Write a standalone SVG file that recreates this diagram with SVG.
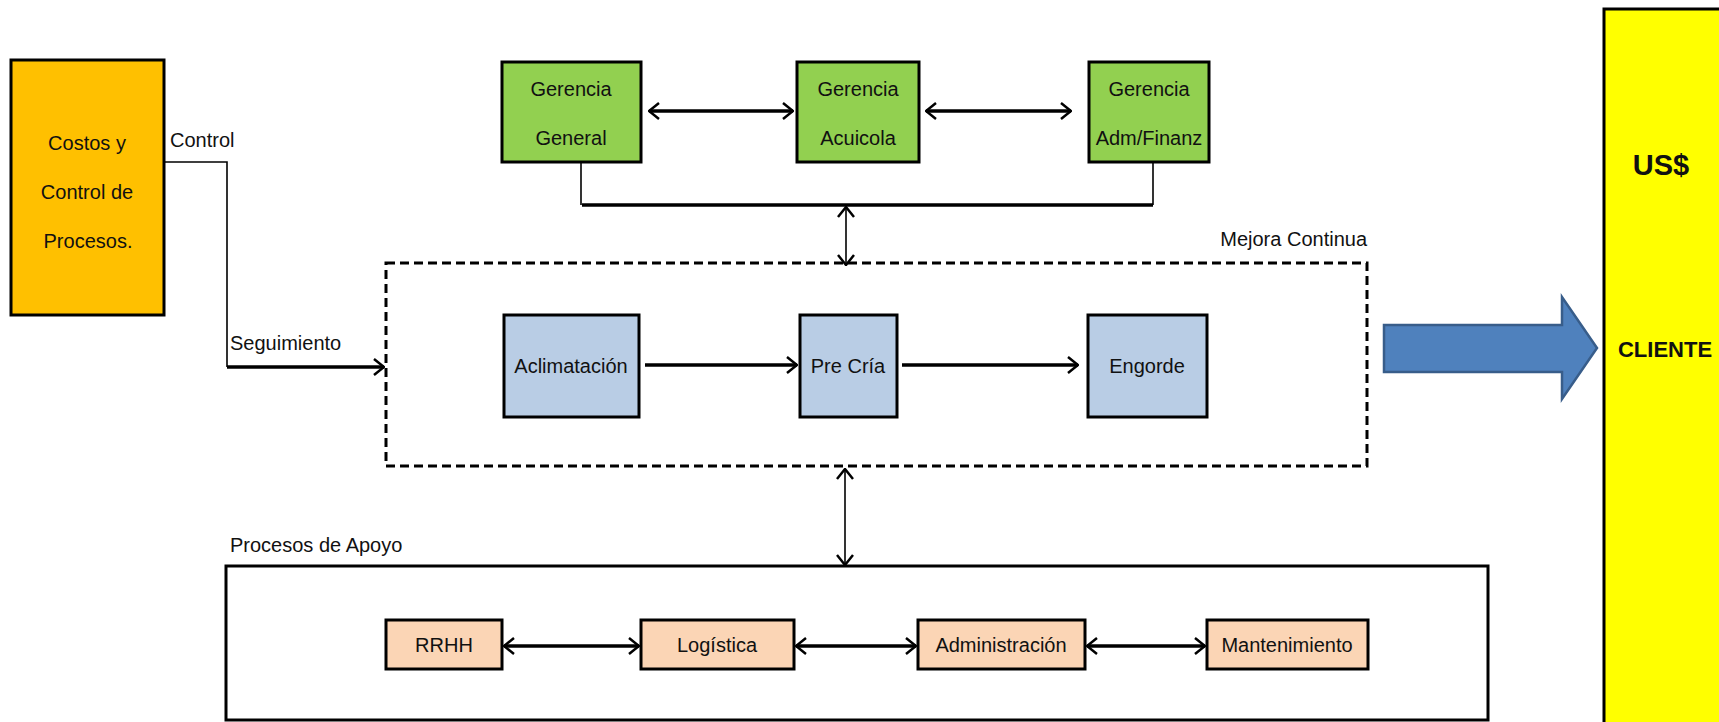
<svg xmlns="http://www.w3.org/2000/svg" width="1719" height="722" viewBox="0 0 1719 722">
<style>
text{font-family:"Liberation Sans",Arial,sans-serif;fill:#111;}
.lbl{font-size:20px;}
.nt{font-size:20px;text-anchor:middle;}
.box{stroke:#000;stroke-width:3;}
.thick{stroke:#000;stroke-width:3.5;fill:none;}
.thin{stroke:#000;stroke-width:1.6;fill:none;}
</style>
<defs>
<marker id="ah" viewBox="0 0 12 18" refX="11" refY="9" markerWidth="12" markerHeight="18" orient="auto-start-reverse" markerUnits="userSpaceOnUse">
<path d="M1,1 L11,9 L1,17" fill="none" stroke="#000" stroke-width="2.5"/>
</marker>
</defs>
<rect width="1719" height="722" fill="#fff"/>

<g id="costos">
<rect class="box" x="11" y="60" width="153" height="255" fill="#FFC000"/>
<text class="nt" x="87" y="150">Costos y</text>
<text class="nt" x="87" y="199">Control de</text>
<text class="nt" x="88" y="248">Procesos.</text>
</g>

<g id="gerencia-general">
<rect class="box" x="502" y="62" width="139" height="100" fill="#92D050"/>
<text class="nt" x="571" y="96">Gerencia</text>
<text class="nt" x="571" y="145">General</text>
</g>
<g id="gerencia-acuicola">
<rect class="box" x="797" y="62" width="122" height="100" fill="#92D050"/>
<text class="nt" x="858" y="96">Gerencia</text>
<text class="nt" x="858" y="145">Acuicola</text>
</g>
<g id="gerencia-adm">
<rect class="box" x="1089" y="62" width="120" height="100" fill="#92D050"/>
<text class="nt" x="1149" y="96">Gerencia</text>
<text class="nt" x="1149" y="145">Adm/Finanz</text>
</g>

<g id="mejora-continua">
<rect x="386" y="263" width="981" height="203" fill="none" stroke="#000" stroke-width="3" stroke-dasharray="9 5"/>
<text class="lbl" x="1367" y="246" text-anchor="end">Mejora  Continua</text>
</g>

<g id="aclimatacion">
<rect class="box" x="504" y="315" width="135" height="102" fill="#B9CDE5"/>
<text class="nt" x="571" y="373">Aclimatación</text>
</g>
<g id="precria">
<rect class="box" x="800" y="315" width="97" height="102" fill="#B9CDE5"/>
<text class="nt" x="848" y="373">Pre Cría</text>
</g>
<g id="engorde">
<rect class="box" x="1088" y="315" width="119" height="102" fill="#B9CDE5"/>
<text class="nt" x="1147" y="373">Engorde</text>
</g>

<g id="procesos-apoyo">
<rect x="226" y="566" width="1262" height="154" fill="none" stroke="#000" stroke-width="3"/>
<text class="lbl" x="230" y="552">Procesos de Apoyo</text>
</g>

<g id="rrhh">
<rect class="box" x="386" y="620" width="116" height="49" fill="#FBD5B5"/>
<text class="nt" x="444" y="652">RRHH</text>
</g>
<g id="logistica">
<rect class="box" x="641" y="620" width="153" height="49" fill="#FBD5B5"/>
<text class="nt" x="717" y="652">Logística</text>
</g>
<g id="administracion">
<rect class="box" x="918" y="620" width="167" height="49" fill="#FBD5B5"/>
<text class="nt" x="1001" y="652">Administración</text>
</g>
<g id="mantenimiento">
<rect class="box" x="1207" y="620" width="161" height="49" fill="#FBD5B5"/>
<text class="nt" x="1287" y="652">Mantenimiento</text>
</g>

<g id="cliente">
<rect x="1604" y="9" width="140" height="720" fill="#FFFF00" stroke="#000" stroke-width="3"/>
<text x="1661" y="175" text-anchor="middle" font-size="29" font-weight="bold">US$</text>
<text x="1665" y="357" text-anchor="middle" font-size="22" font-weight="bold">CLIENTE</text>
</g>

<g id="connectors">
<!-- control / seguimiento -->
<polyline class="thin" points="164,162 227,162 227,367"/>
<line class="thick" x1="227" y1="367" x2="384" y2="367" marker-end="url(#ah)"/>
<text class="lbl" x="170" y="147">Control</text>
<text class="lbl" x="230" y="350">Seguimiento</text>

<!-- gerencias -->
<line class="thick" x1="649" y1="111" x2="793" y2="111" marker-start="url(#ah)" marker-end="url(#ah)"/>
<line class="thick" x1="926" y1="111" x2="1071" y2="111" marker-start="url(#ah)" marker-end="url(#ah)"/>
<polyline class="thin" points="581,162 581,205"/>
<polyline class="thin" points="1153,162 1153,205"/>
<line class="thick" x1="582" y1="205" x2="1153" y2="205"/>
<line class="thin" x1="846" y1="207" x2="846" y2="265" marker-start="url(#ah)" marker-end="url(#ah)"/>

<!-- core -->
<line class="thick" x1="645" y1="365" x2="797" y2="365" marker-end="url(#ah)"/>
<line class="thick" x1="902" y1="365" x2="1078" y2="365" marker-end="url(#ah)"/>

<!-- to support -->
<line class="thin" x1="845" y1="469" x2="845" y2="565" marker-start="url(#ah)" marker-end="url(#ah)"/>

<!-- support -->
<line class="thick" x1="504" y1="646" x2="639" y2="646" marker-start="url(#ah)" marker-end="url(#ah)"/>
<line class="thick" x1="796" y1="646" x2="916" y2="646" marker-start="url(#ah)" marker-end="url(#ah)"/>
<line class="thick" x1="1087" y1="646" x2="1205" y2="646" marker-start="url(#ah)" marker-end="url(#ah)"/>

<!-- to client -->
<path d="M1384,325 L1562,325 L1562,297 L1597,348 L1562,399 L1562,372 L1384,372 Z" fill="#4F81BD" stroke="#385D8A" stroke-width="2.5"/>
</g>
</svg>
